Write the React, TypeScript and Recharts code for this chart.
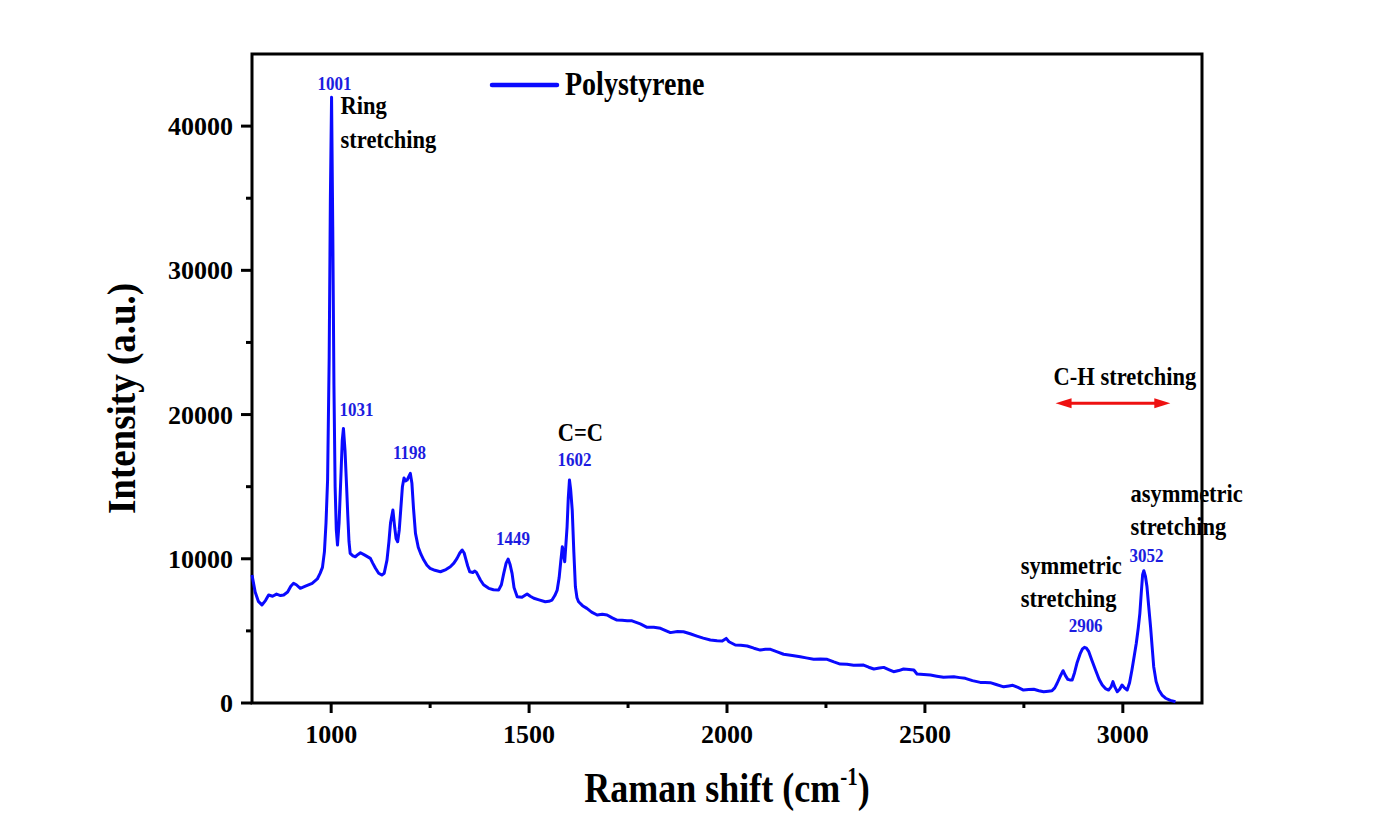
import { LineChart, Line, XAxis, YAxis, ReferenceArea, ReferenceDot, ReferenceLine, Legend } from 'recharts';

// Raman spectrum of polystyrene
const shifts = [
	800, 808, 816, 825, 834, 842, 852, 862, 872, 880, 890, 898, 905, 912, 922, 935, 952, 965, 972, 978,
	983, 987, 991, 995, 998, 1001, 1004, 1007, 1010, 1013, 1016, 1020, 1025, 1028, 1031, 1035, 1039, 1042, 1045, 1048,
	1055, 1061, 1068, 1074, 1085, 1099, 1105, 1112, 1120, 1128, 1134, 1141, 1146, 1150, 1156, 1160, 1164, 1168, 1172, 1176,
	1180, 1184, 1188, 1192, 1196, 1200, 1204, 1208, 1213, 1220, 1227, 1234, 1242, 1250, 1262, 1276, 1290, 1301, 1310, 1318,
	1325, 1331, 1336, 1340, 1345, 1350, 1358, 1363, 1367, 1372, 1377, 1385, 1398, 1410, 1423, 1430, 1436, 1442, 1447, 1452,
	1457, 1462, 1470, 1482, 1495, 1503, 1512, 1525, 1541, 1550, 1558, 1565, 1571, 1576, 1580, 1584, 1587, 1590, 1593, 1596,
	1599, 1602, 1605, 1609, 1613, 1617, 1621, 1625, 1635, 1646, 1658, 1672, 1685, 1697, 1710, 1722, 1735, 1748, 1760, 1781,
	1798, 1815, 1832, 1845, 1857, 1875, 1890, 1907, 1924, 1940, 1958, 1975, 1988, 1998, 2005, 2021, 2035, 2051, 2068, 2084,
	2097, 2110, 2127, 2143, 2165, 2185, 2200, 2219, 2236, 2253, 2270, 2286, 2303, 2320, 2345, 2358, 2371, 2385, 2396, 2410,
	2421, 2434, 2446, 2460, 2472, 2480, 2497, 2514, 2530, 2547, 2560, 2573, 2588, 2602, 2620, 2640, 2652, 2665, 2680, 2699,
	2712, 2722, 2735, 2749, 2762, 2775, 2788, 2800, 2812, 2821, 2828, 2834, 2841, 2849, 2855, 2861, 2866, 2872, 2878, 2884,
	2892, 2898, 2903, 2908, 2914, 2922, 2931, 2940, 2948, 2956, 2964, 2970, 2975, 2980, 2986, 2992, 2998, 3004, 3011, 3017,
	3023, 3029, 3034, 3039, 3043, 3047, 3050, 3053, 3057, 3061, 3065, 3070, 3074, 3078, 3084, 3091, 3099, 3108, 3120, 3133,
];

const intensity = [
	8870, 7700, 7050, 6800, 7100, 7490, 7400, 7550, 7450, 7490, 7700, 8100, 8300, 8200, 7950, 8100, 8300, 8600, 8990, 9400,
	10500, 12500, 15500, 24000, 35000, 42000, 33000, 22000, 15000, 12000, 10950, 12500, 16000, 18200, 19040, 17500, 15000, 13000, 11200, 10380,
	10200, 10140, 10300, 10420, 10250, 10030, 9700, 9340, 9000, 8870, 9000, 9910, 11200, 12500, 13380, 12300, 11400, 11180, 12000, 13500,
	15000, 15600, 15400, 15460, 15700, 15920, 15230, 13500, 11760, 10800, 10300, 9910, 9550, 9340, 9200, 9100, 9250, 9450, 9700, 10030,
	10400, 10610, 10400, 10000, 9500, 9100, 9050, 9150, 9060, 8800, 8530, 8200, 7950, 7850, 7830, 8200, 8990, 9700, 9980, 9600,
	8990, 8000, 7370, 7330, 7560, 7400, 7260, 7150, 7020, 7050, 7140, 7450, 7830, 8700, 9800, 10840, 10300, 9800, 11000, 12220,
	14200, 15460, 14800, 13380, 10500, 8060, 7300, 7020, 6750, 6560, 6300, 6100, 6150, 6100, 5900, 5750, 5730, 5710, 5700, 5480,
	5250, 5250, 5180, 5020, 4880, 4950, 4940, 4800, 4640, 4500, 4370, 4320, 4300, 4480, 4250, 4020, 4000, 3950, 3800, 3670,
	3730, 3720, 3550, 3380, 3300, 3210, 3130, 3030, 3050, 3030, 2850, 2700, 2680, 2610, 2630, 2480, 2360, 2420, 2470, 2300,
	2170, 2250, 2360, 2330, 2290, 2010, 1980, 1940, 1860, 1780, 1800, 1820, 1760, 1710, 1550, 1430, 1420, 1410, 1280, 1120,
	1180, 1230, 1080, 900, 930, 950, 850, 780, 820, 850, 1050, 1370, 1800, 2240, 1900, 1640, 1600, 1600, 2100, 2750,
	3400, 3750, 3860, 3800, 3560, 2950, 2290, 1650, 1250, 1000, 900, 1100, 1480, 1100, 780, 950, 1250, 1050, 900, 1400,
	2290, 3300, 4140, 5200, 6220, 7800, 8900, 9170, 8800, 8060, 6800, 5290, 3900, 2520, 1500, 900, 550, 330, 180, 90,
];

const xTicks = [1000, 1250, 1500, 1750, 2000, 2250, 2500, 2750, 3000];
const xMajor = [1000, 1500, 2000, 2500, 3000];
const yTicks = [0, 5000, 10000, 15000, 20000, 25000, 30000, 35000, 40000];
const yMajor = [0, 10000, 20000, 30000, 40000];

const peakShifts = [1001, 1031, 1198, 1449, 1602, 2906, 3052];
const peakHeights = [42000, 19040, 15920, 10000, 15460, 3860, 9170];
const bandNotes = [['Ring', 'stretching'], [], [], [], ['C=C'], ['symmetric', 'stretching'], ['asymmetric', 'stretching']];

const chRange = [2830, 3120];
const chLevel = 20780;

const FONT = '"Liberation Serif", "Times New Roman", serif';
const LINE = '#0a0aff';
const NUM = '#1c1ce0';

// label offsets from each peak: [dx, dy] of the number, then [dx, dy, line gap, anchor] of the notes
const numberPos = [[3, -7], [13, -12], [0, -14], [4, -14], [5, -14], [0, -15], [3, -9]];
const notePos: any[] = [
	[9, 17, 34, 'start'],
	null, null, null,
	[11, -39, 0, 'middle'],
	[-65, -73, 33, 'start'],
	[-13, -69, 33, 'start'],
];

const data = shifts.map((s, i) => ({ shift: s, intensity: intensity[i] }));

function T({ x, y, size, sy = 1, anchor = 'start', fill = '#000', children }: any) {
	return (
		<text
			transform={`translate(${x},${y}) scale(1,${sy})`}
			fontSize={size}
			fontWeight="bold"
			fontFamily={FONT}
			textAnchor={anchor}
			fill={fill}
		>
			{children}
		</text>
	);
}

function XTick({ x, y, payload }: any) {
	const major = xMajor.includes(payload.value);
	return (
		<g>
			<line x1={x} x2={x} y1={y} y2={y + (major ? 10 : 5)} stroke="#000" strokeWidth={3} />
			{major && <T x={x} y={y + 40} size={26} anchor="middle">{payload.value}</T>}
		</g>
	);
}

function YTick({ x, y, payload }: any) {
	const major = yMajor.includes(payload.value);
	return (
		<g>
			<line x1={x - (major ? 11 : 6)} x2={x} y1={y} y2={y} stroke="#000" strokeWidth={3} />
			{major && <T x={x - 19} y={y + 9} size={26} anchor="end">{payload.value}</T>}
		</g>
	);
}

function PeakNote({ cx, cy, i }: any) {
	const [nx, ny] = numberPos[i];
	const np = notePos[i];
	return (
		<g>
			<T x={cx + nx} y={cy + ny} size={17} sy={1.05} anchor="middle" fill={NUM}>{peakShifts[i]}</T>
			{np && bandNotes[i].map((line, k) => (
				<T key={line + k} x={cx + np[0]} y={cy + np[1] + k * np[2]} size={22.5} sy={1.1} anchor={np[3]}>{line}</T>
			))}
		</g>
	);
}

function CHArrow({ x1, y1, x2 }: any) {
	const h = 16;
	const w = 5;
	return (
		<g>
			<line x1={x1 + h - 2} x2={x2 - h + 2} y1={y1} y2={y1} stroke="#ee1111" strokeWidth={3} />
			<polygon points={`${x1},${y1} ${x1 + h},${y1 - w} ${x1 + h},${y1 + w}`} fill="#ee1111" />
			<polygon points={`${x2},${y1} ${x2 - h},${y1 - w} ${x2 - h},${y1 + w}`} fill="#ee1111" />
			<T x={(x1 + x2) / 2 + 12} y={y1 - 18} size={22.5} sy={1.1} anchor="middle">C-H stretching</T>
		</g>
	);
}

function LegendBox() {
	return (
		<svg width={240} height={40} style={{ display: 'block', overflow: 'visible' }}>
			<line x1={0} x2={65} y1={15} y2={15} stroke={LINE} strokeWidth={4.5} strokeLinecap="round" />
			<T x={73} y={25} size={28} sy={1.17}>Polystyrene</T>
		</svg>
	);
}

export default function App() {
	return (
		<div style={{ width: 1370, height: 805 }}>
			<LineChart width={1370} height={805} data={data} margin={{ top: 46, right: 176, bottom: 20, left: 144 }}>
				<XAxis
					dataKey="shift"
					type="number"
					domain={[800, 3200]}
					ticks={xTicks}
					interval={0}
					height={90}
					tickSize={0}
					tickMargin={0}
					axisLine={false}
					tickLine={false}
					tick={<XTick />}
					label={{
						content: ({ viewBox }: any) => (
							<text
								transform={`translate(${viewBox.x + viewBox.width / 2},${viewBox.y + 99}) scale(1,1.18)`}
								textAnchor="middle"
								fontSize={36}
								fontWeight="bold"
								fontFamily={FONT}
								fill="#000"
							>
								Raman shift (cm<tspan fontSize={21} dy={-14}>-1</tspan><tspan dy={14}>)</tspan>
							</text>
						),
					}}
				/>
				<YAxis
					type="number"
					domain={[0, 45000]}
					ticks={yTicks}
					interval={0}
					width={100}
					tickSize={0}
					tickMargin={0}
					axisLine={false}
					tickLine={false}
					tick={<YTick />}
					label={{
						content: ({ viewBox }: any) => (
							<text
								transform={`translate(${viewBox.x - 17},${viewBox.y + viewBox.height / 2 + 20}) rotate(-90) scale(1,1.1)`}
								textAnchor="middle"
								fontSize={37}
								fontWeight="bold"
								fontFamily={FONT}
								fill="#000"
							>
								Intensity (a.u.)
							</text>
						),
					}}
				/>
				<Line
					dataKey="intensity"
					type="linear"
					stroke={LINE}
					strokeWidth={3}
					strokeLinejoin="round"
					dot={false}
					activeDot={false}
					isAnimationActive={false}
				/>
				<ReferenceArea x1={800} x2={3200} y1={0} y2={45000} fill="none" stroke="#000" strokeWidth={3} ifOverflow="visible" />
				{peakShifts.map((s, i) => (
					<ReferenceDot
						key={s}
						x={s}
						y={peakHeights[i]}
						r={1}
						ifOverflow="visible"
						shape={(p: any) => <PeakNote cx={p.cx} cy={p.cy} i={i} />}
					/>
				))}
				<ReferenceLine
					segment={[{ x: chRange[0], y: chLevel }, { x: chRange[1], y: chLevel }]}
					ifOverflow="visible"
					shape={(p: any) => <CHArrow x1={p.x1} y1={p.y1} x2={p.x2} />}
				/>
				<Legend
					layout="horizontal"
					verticalAlign="middle"
					align="center"
					content={() => <LegendBox />}
					wrapperStyle={{ top: 62, left: 484, width: 240, height: 40 }}
				/>
			</LineChart>
		</div>
	);
}
